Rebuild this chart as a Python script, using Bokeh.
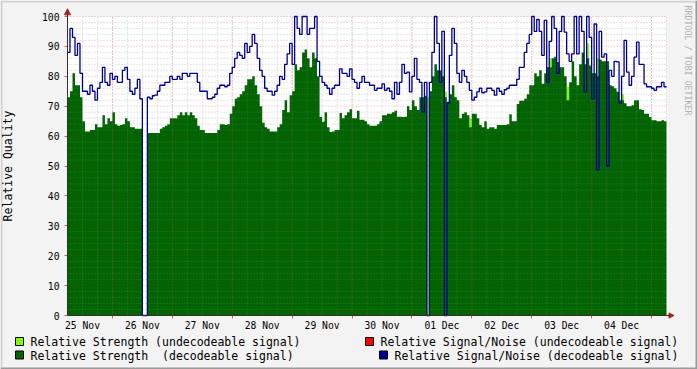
import math
from bokeh.plotting import figure
from bokeh.models import FixedTicker, Range1d, Arrow, NormalHead, ColumnDataSource
from bokeh.core.properties import value
from bokeh.embed import file_html
from bokeh.resources import INLINE

# ---- data (hourly samples, hour 0 = 25 Nov 06:00) ----
DAY_LABELS = ["25 Nov", "26 Nov", "27 Nov", "28 Nov", "29 Nov",
              "30 Nov", "01 Dec", "02 Dec", "03 Dec", "04 Dec"]
LABEL_HOURS = [6, 30, 54, 78, 102, 126, 150, 174, 198, 222]      # noon of each day
MIDNIGHT_HOURS = [18, 42, 66, 90, 114, 138, 162, 186, 210, 234]
SIX_HOUR_GRID = [0, 6, 12, 18, 24, 30, 36, 42, 48, 54, 60, 66, 72, 78, 84, 90,
                 96, 102, 108, 114, 120, 126, 132, 138, 144, 150, 156, 162, 168,
                 174, 180, 186, 192, 198, 204, 210, 216, 222, 228, 234, 240]
Y_TICKS = [0, 10, 20, 30, 40, 50, 60, 70, 80, 90, 100]
Y_MINOR = [2, 4, 6, 8, 12, 14, 16, 18, 22, 24, 26, 28, 32, 34, 36, 38, 42, 44,
           46, 48, 52, 54, 56, 58, 62, 64, 66, 68, 72, 74, 76, 78, 82, 84, 86,
           88, 92, 94, 96, 98]

strength_decodeable = [
    73, 75, 81, 77, 77, 73, 65, 61.5, 61.5, 62,
    62, 64, 63, 63, 67, 64, 66, 65, 68, 64,
    63.5, 63.7, 64, 66, 65, 63, 63, 62.5, 62.5, 62.5,
    0, 0, 61, 61, 61, 61, 61, 62.5, 63, 63.5,
    64, 66, 66, 66, 67, 68, 67, 68, 67, 68,
    67, 66, 63.5, 62, 62, 61, 61, 61, 61, 61,
    62, 64, 64, 63.7, 64, 67.5, 70, 72.5, 73, 74,
    75, 77, 79, 79, 80, 77, 74, 70, 64.5, 63,
    62.5, 61.5, 61.5, 61.5, 63, 64, 68.7, 72, 68, 73.7,
    75, 84, 82, 83, 88, 89, 86, 83, 88, 86,
    80, 66.4, 64.8, 68, 63, 61.4, 61.5, 62, 62, 67.7,
    66, 67, 68, 69, 66, 66, 68.5, 65.5, 65.5, 65,
    64, 63.5, 63.5, 63.5, 64, 65, 67, 67, 67.5, 67.5,
    68, 68.5, 66.5, 66.5, 66.4, 66.5, 70, 68.7, 72, 70,
    68.7, 73, 73, 73.5, 0, 75, 80, 84, 82, 82,
    80, 73, 71.5, 74, 77, 73, 72, 66, 67.5, 68,
    67, 63, 67.5, 67.5, 66, 63.7, 63, 65, 62.5, 63,
    63, 62.5, 63.7, 63.7, 63.7, 63.7, 64, 67.3, 65, 65,
    70.7, 71.8, 71.8, 72.5, 74, 77, 77, 81, 80, 82,
    77.5, 81, 83, 83, 86, 86.5, 84.8, 83, 83, 80,
    72, 78, 85, 80, 77, 84, 88, 84, 86, 83.6,
    81, 81, 80, 85.6, 85, 85, 85, 77, 76.7, 76,
    74.8, 72, 72, 71, 70, 70, 70.3, 72, 72, 69,
    68.7, 67.5, 67.5, 66.4, 65.3, 65.3, 65, 65, 65.3, 65,
]

snr_decodeable = [
    88, 96, 93, 87, 91, 81, 75, 75, 74, 77,
    75, 72, 76, 78, 83, 78, 77, 81, 79, 80,
    78, 78, 82, 83, 79, 75, 74, 76, 79, 72.5,
    0, 0, 73, 72.5, 73.5, 73.7, 75, 77, 77, 78,
    78, 80, 79, 79, 80, 79, 81, 81, 80, 81,
    81, 81, 78, 75, 75, 75, 72.5, 72.5, 73, 74,
    76, 77, 77, 76.5, 77, 81, 83, 86, 88, 87,
    86, 91, 88, 90, 94, 91, 86, 82, 80, 76,
    75, 75, 73.7, 75, 77, 80, 79, 84, 87.5, 91,
    84, 100, 96, 94, 100, 100, 94, 96, 96, 100,
    85, 80, 78, 77, 76, 74, 76, 77, 77, 82.5,
    81, 81, 80, 82.5, 79, 78, 76, 78, 80, 78,
    78, 77, 77, 75.3, 76, 76, 77.5, 75.3, 76, 75,
    72.5, 78, 74, 78, 84, 81, 81.4, 74.8, 80, 86,
    79, 78, 68, 78, 0, 78, 88, 100, 91, 78,
    95, 0, 71, 87, 96, 91, 81, 78, 82, 80,
    78, 75.3, 72, 73, 74.8, 76, 74.5, 74.8, 76, 76,
    75.3, 73.7, 76, 75, 74, 75.5, 76, 77, 77, 77,
    79, 83, 83, 88, 91, 94, 100, 95, 99, 95,
    87, 98.7, 78, 91.7, 100, 96, 81, 95, 100, 94.8,
    87.5, 85, 87.5, 100, 87.5, 100, 95, 74.8, 100, 93,
    72.5, 97.5, 48.7, 95, 86.4, 87.5, 50, 82, 80, 85,
    84.8, 71, 80, 92, 81.4, 77, 80, 86.4, 91.4, 84,
    84, 77.5, 76.5, 76.5, 76, 75.3, 76.5, 76.5, 78, 76.5,
]

# undecodeable strength: only a few hours carry a value
strength_undecodeable_hours = [144, 151, 161, 193, 200, 208, 212, 222]
strength_undecodeable_vals = [73, 75, 66, 86, 76.5, 91, 86, 74]

LEGEND_LABELS = ["Relative Strength (undecodeable signal)",
                 "Relative Signal/Noise (undecodeable signal)",
                 "Relative Strength\u00a0 (decodeable signal)",
                 "Relative Signal/Noise (decodeable signal)"]
LEGEND_COLORS = ["#80ff00", "#ff0000", "#006400", "#000090"]

N = len(strength_decodeable)
hours = list(range(N + 1))
lime = [0.0] * N
for h, v in zip(strength_undecodeable_hours, strength_undecodeable_vals):
    lime[h] = v

src = ColumnDataSource(dict(
    x=hours,
    green=strength_decodeable + [strength_decodeable[-1]],
    blue=snr_decodeable + [snr_decodeable[-1]],
    lime=lime + [lime[-1]],
    zero=[0] * (N + 1),
))

MONO = "DejaVu Sans Mono"
BACK = "#f3f3f3"
GRID = "#8c8c8c"
MGRID = "#c02020"
ARROW = "#a02020"
AXIS = "#303030"
W, H = 697, 369

# pixel <-> data helpers (graph area: x 67..666, y 16..315)
PX_PER_H = 599.0 / N
PX_PER_V = 2.99


def dx(px):
    return (px - 67) / PX_PER_H


def dy(py):
    return (315 - py) / PX_PER_V


# the frame covers the whole page; axes are pinned inside it
p = figure(width=W, height=H, title=None,
           x_range=Range1d(dx(0), dx(W)), y_range=Range1d(dy(H), dy(0)),
           output_backend="svg", toolbar_location=None, min_border=0,
           min_border_left=0, min_border_right=0, min_border_top=0,
           min_border_bottom=0)
p.border_fill_color = BACK
p.background_fill_color = BACK
p.outline_line_color = None
p.xgrid.visible = False
p.ygrid.visible = False

# outer shading (light top/left, dark bottom/right)
p.quad(left=[dx(0), dx(0)], right=[dx(W), dx(2)], bottom=[dy(2), dy(H)],
       top=[dy(0), dy(0)], fill_color="#d2d2d2", line_color=None)
p.quad(left=[dx(0), dx(W - 2)], right=[dx(W), dx(W)], bottom=[dy(H), dy(H)],
       top=[dy(H - 2), dy(0)], fill_color="#9a9a9a", line_color=None)

# canvas of the graph
p.quad(left=[0], right=[N], bottom=[Y_TICKS[0]], top=[Y_TICKS[-1]],
       fill_color="white", line_color=None)

p.varea_step(x="x", y1="zero", y2="lime", step_mode="after", source=src,
             fill_color="#80ff00")
p.varea_step(x="x", y1="zero", y2="green", step_mode="after", source=src,
             fill_color="#006400")

# grid (dotted, semi transparent, over the areas as in rrdtool)
p.segment(x0=SIX_HOUR_GRID, x1=SIX_HOUR_GRID, y0=[0] * len(SIX_HOUR_GRID),
          y1=[100] * len(SIX_HOUR_GRID), line_color=GRID, line_alpha=0.45,
          line_dash="1 2", line_width=1)
p.segment(x0=[0] * len(Y_MINOR), x1=[N] * len(Y_MINOR), y0=Y_MINOR, y1=Y_MINOR,
          line_color=GRID, line_alpha=0.45, line_dash="1 2", line_width=1)
p.segment(x0=MIDNIGHT_HOURS, x1=MIDNIGHT_HOURS, y0=[0] * len(MIDNIGHT_HOURS),
          y1=[100] * len(MIDNIGHT_HOURS), line_color=MGRID, line_alpha=0.35,
          line_dash="1 2", line_width=1)
p.segment(x0=[0] * 10, x1=[N] * 10, y0=Y_TICKS[1:], y1=Y_TICKS[1:],
          line_color=MGRID, line_alpha=0.35, line_dash="1 2", line_width=1)

p.step(x="x", y="blue", mode="after", source=src, line_color="#000090",
       line_width=1.3)

# axis lines with arrows
p.add_layout(Arrow(end=NormalHead(size=6, fill_color=ARROW, line_color=ARROW),
                   x_start=0, y_start=0, x_end=0, y_end=dy(8.3),
                   line_color=AXIS, line_width=1))
p.add_layout(Arrow(end=NormalHead(size=5, fill_color=ARROW, line_color=ARROW),
                   x_start=0, y_start=0, x_end=dx(673.5), y_end=0,
                   line_color=AXIS, line_width=1))

# watermark
p.text(x=[dx(687)], y=[dy(5)], text=["RRDTOOL / TOBI OETIKER"], angle=-math.pi / 2,
       text_align="left", text_baseline="middle", text_font=value(MONO),
       text_font_size="8.3px", text_color="#b0b0b0")

# axes pinned at the graph origin
xa = p.xaxis[0]
xa.fixed_location = 0
xa.bounds = (0, N)
xa.ticker = FixedTicker(ticks=LABEL_HOURS, minor_ticks=MIDNIGHT_HOURS)
xa.major_label_overrides = {h: l for h, l in zip(LABEL_HOURS, DAY_LABELS)}
xa.major_tick_line_color = None
xa.major_tick_out = 0
xa.major_tick_in = 0
xa.minor_tick_line_color = MGRID
xa.minor_tick_line_alpha = 0.7
xa.minor_tick_out = 3
xa.minor_tick_in = 0
xa.axis_line_color = None
xa.major_label_standoff = 1
xa.major_label_text_font = MONO
xa.major_label_text_font_size = "9.7px"
xa.major_label_text_color = "#000000"

ya = p.yaxis[0]
ya.fixed_location = 0
ya.bounds = (0, 100)
ya.ticker = FixedTicker(ticks=Y_TICKS, minor_ticks=[])
ya.major_tick_line_color = MGRID
ya.major_tick_line_alpha = 0.7
ya.major_tick_out = 3
ya.major_tick_in = 0
ya.minor_tick_line_color = None
ya.axis_line_color = None
ya.major_label_standoff = 5
ya.major_label_text_font = MONO
ya.major_label_text_font_size = "9.7px"
ya.major_label_text_color = "#000000"
ya.axis_label = "Relative Quality"
ya.axis_label_text_font = MONO
ya.axis_label_text_font_size = "11.5px"
ya.axis_label_text_font_style = "normal"
ya.axis_label_text_color = "#000000"
ya.axis_label_standoff = 24

# ---- legend below the graph (page pixel layout) ----
sw_left = [15, 365, 15, 379]
sw_top = [337, 337, 350.5, 350.5]
p.quad(left=[dx(v) for v in sw_left], right=[dx(v + 8) for v in sw_left],
       top=[dy(v) for v in sw_top], bottom=[dy(v + 8) for v in sw_top],
       fill_color=LEGEND_COLORS, line_color="black", line_width=1)
txt_x = [30, 380, 30, 394]
txt_y = [341.5, 341.5, 355, 355]
p.text(x=[dx(v) for v in txt_x], y=[dy(v) for v in txt_y], text=LEGEND_LABELS,
       text_align="left", text_baseline="middle", text_font=value(MONO),
       text_font_size="11.5px", text_color="#000000")

open("out.html", "w").write(file_html(p, INLINE))
